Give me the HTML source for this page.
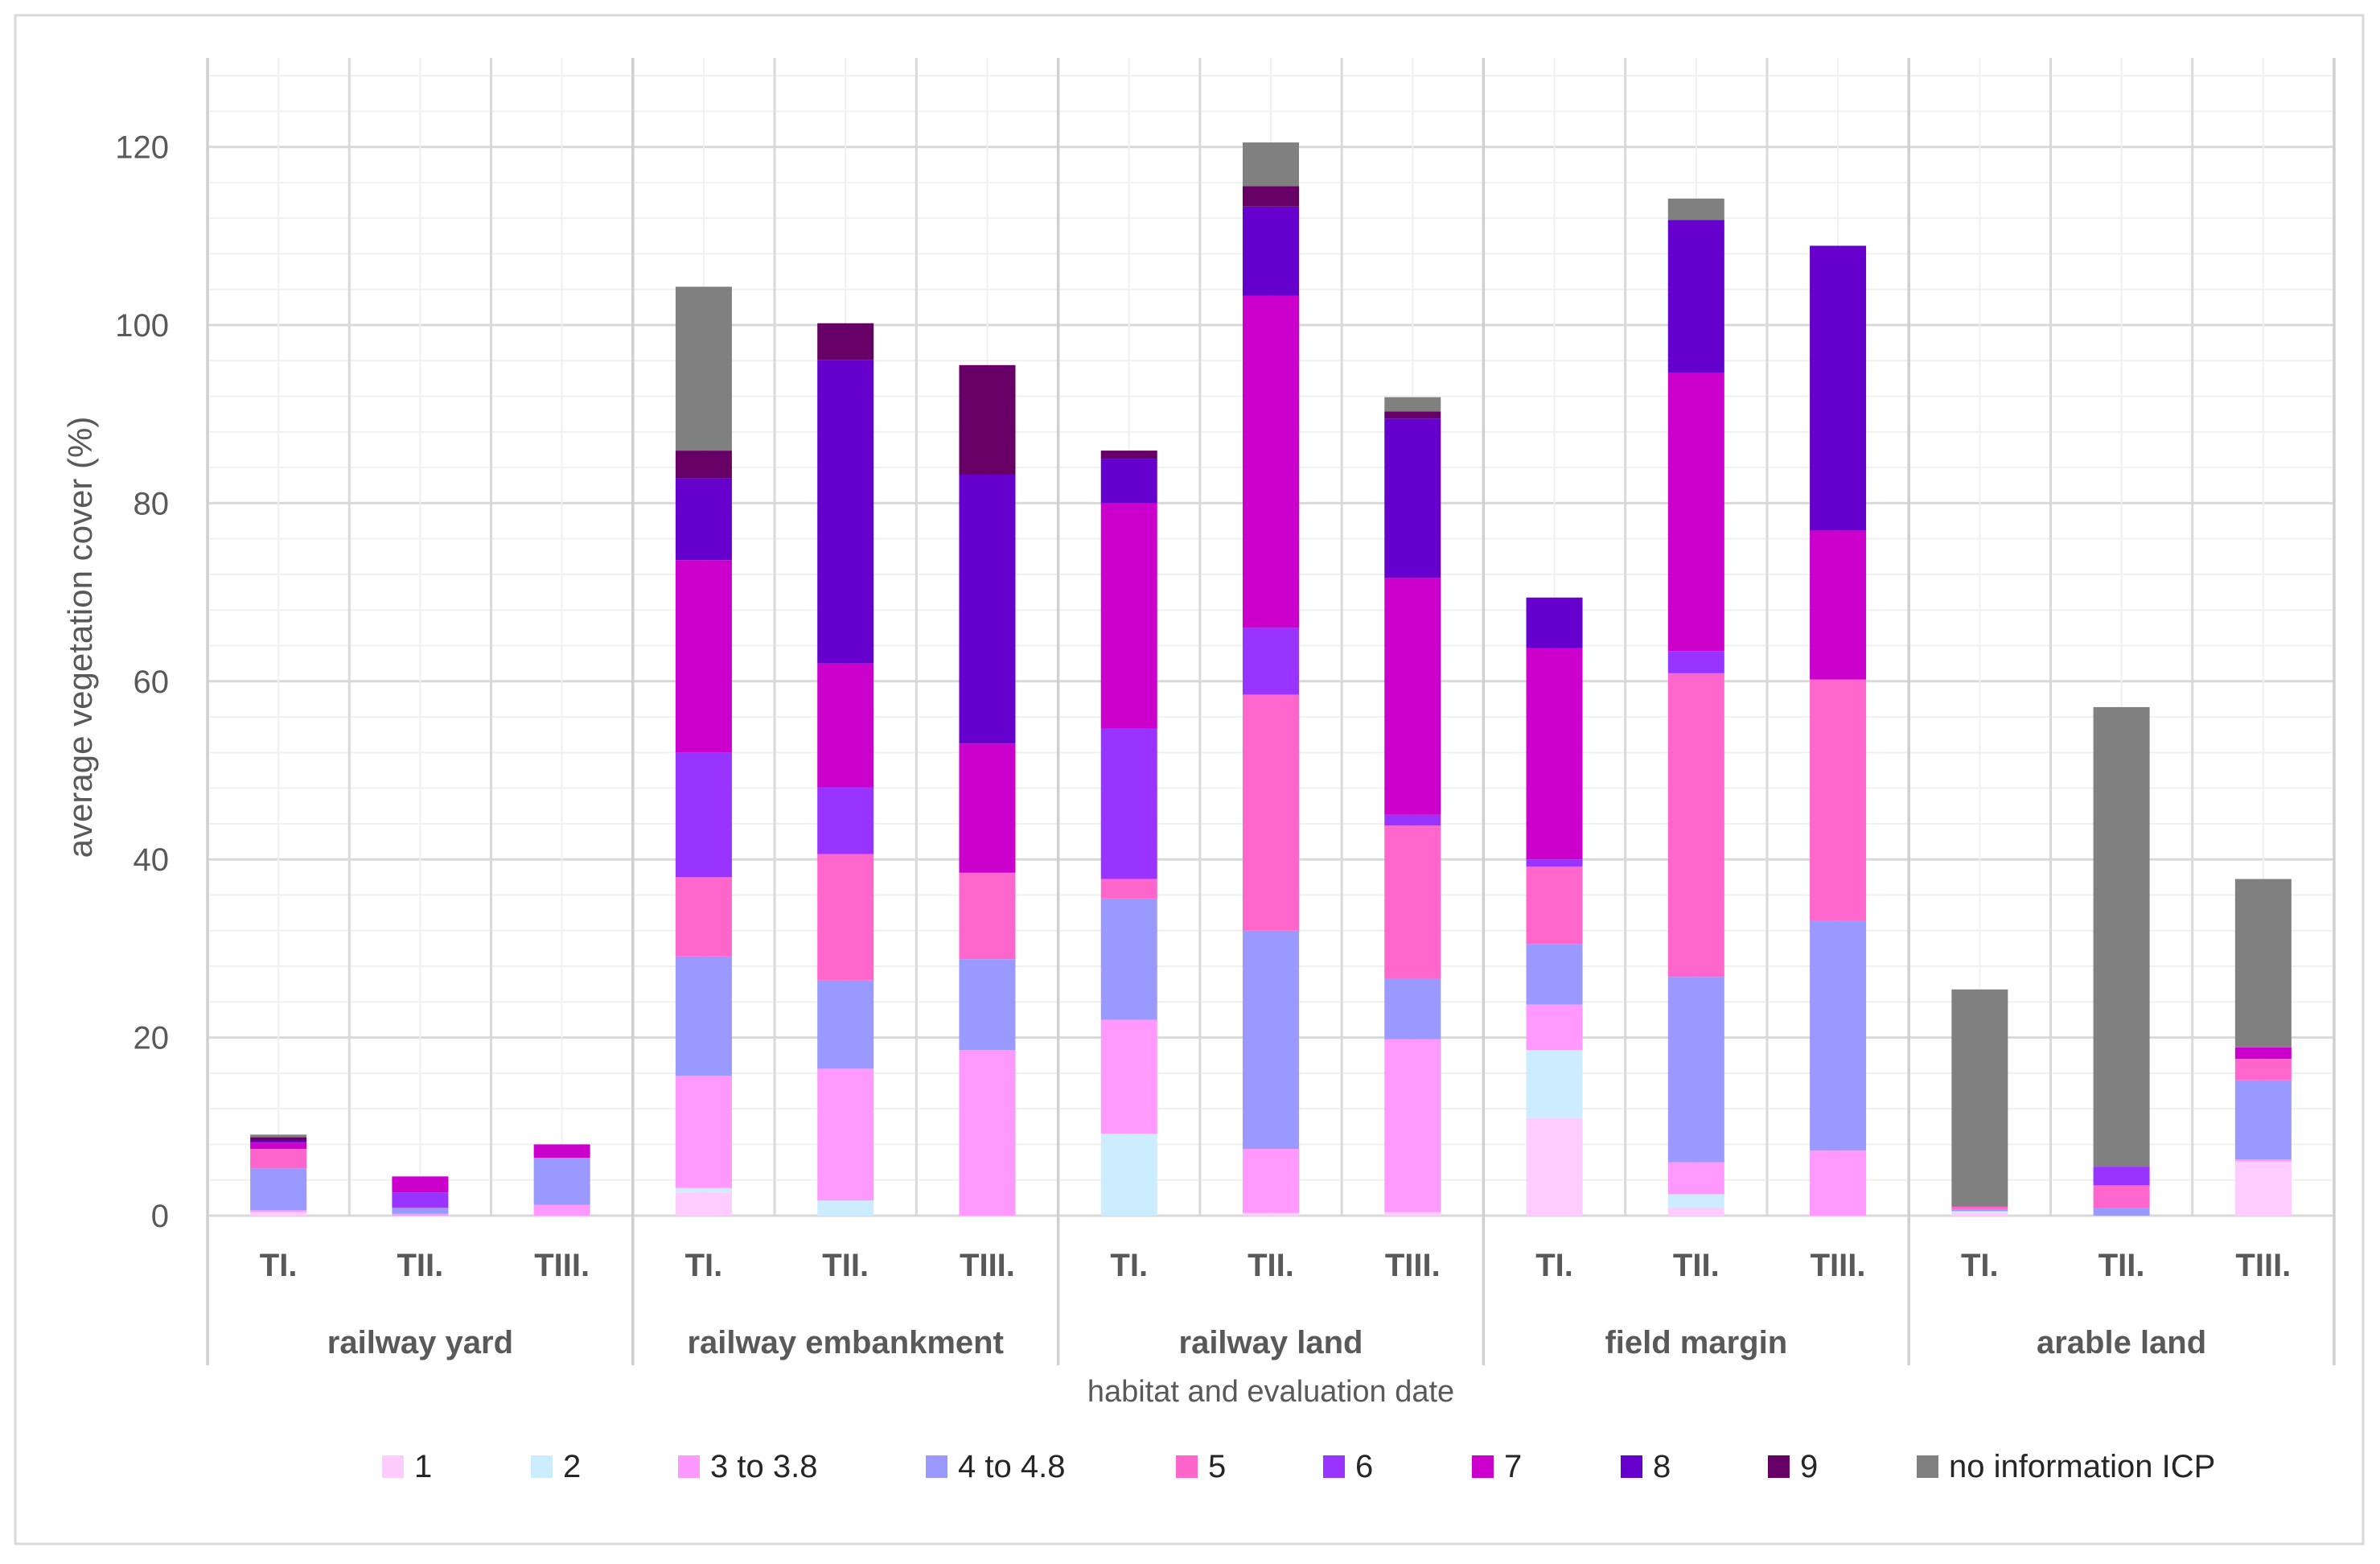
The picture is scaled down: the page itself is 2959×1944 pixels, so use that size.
<!DOCTYPE html>
<html><head><meta charset="utf-8"><style>
html,body{margin:0;padding:0;background:#fff}
svg{display:block}
text{font-family:"Liberation Sans Narrow","Liberation Sans",sans-serif}
</style></head><body>
<svg id="chart" width="2959" height="1944" viewBox="0 0 2959 1944" xmlns="http://www.w3.org/2000/svg">
<rect x="19" y="19" width="2919" height="1900" fill="#fff" stroke="#d9d9d9" stroke-width="3"/>
<g id="grid"></g><g id="bars"></g><g id="labels"></g><g id="legend"></g>
<text transform="translate(114,792) rotate(-90)" text-anchor="middle" font-size="42" fill="#595959">average vegetation cover (%)</text>
<text x="1580" y="1742" text-anchor="middle" font-size="38" fill="#595959">habitat and evaluation date</text>
</svg>
<script>
const groups = ["railway yard","railway embankment","railway land","field margin","arable land"];
const dates = ["TI.","TII.","TIII."];
const seriesNames = ["1","2","3 to 3.8","4 to 4.8","5","6","7","8","9","no information ICP"];
const seriesColors = ["#ffccff","#ccecff","#ff99ff","#9999ff","#ff66cc","#9933ff","#cc00cc","#6600cc","#660066","#808080"];
const yTicks = [0,20,40,60,80,100,120];
const s1 = [0.4,0,0, 2.6,0,0, 0,0.3,0.4, 10.9,0.9,0, 0.3,0,6.1];
const s2 = [0,0,0, 0.5,1.7,0, 9.2,0,0, 7.7,1.5,0, 0.2,0,0];
const s3 = [0.2,0.2,1.2, 12.6,14.8,18.6, 12.8,7.2,19.4, 5.1,3.6,7.3, 0,0,0.2];
const s4 = [4.7,0.7,5.3, 13.4,9.9,10.2, 13.6,24.5,6.8, 6.8,20.8,25.8, 0.2,0.9,8.9];
const s5 = [2.2,0,0, 8.9,14.2,9.7, 2.2,26.5,17.2, 8.7,34.1,27.1, 0.3,2.5,2.4];
const s6 = [0,1.7,0, 14,7.5,0, 16.9,7.5,1.2, 0.8,2.5,0, 0,2.1,0];
const s7 = [0.7,1.8,1.5, 21.6,13.9,14.5, 25.3,37.3,26.6, 23.7,31.2,16.7, 0,0,1.3];
const s8 = [0.2,0,0, 9.2,34.1,30.2, 5,10,17.9, 5.7,17.2,32, 0,0,0];
const s9 = [0.4,0,0, 3.1,4.1,12.3, 0.9,2.3,0.8, 0,0,0, 0,0,0];
const s10 = [0.3,0,0, 18.4,0,0, 0,4.9,1.6, 0,2.4,0, 24.4,51.6,18.9];
const series = [s1,s2,s3,s4,s5,s6,s7,s8,s9,s10];

const NS="http://www.w3.org/2000/svg";
const X0=258, X1=2902, Y0=1511, Ytop=72, PX_PER=11.07;
const nCat=groups.length*dates.length, cw=(X1-X0)/nCat, bw=70;
const y = v => Y0 - v*PX_PER;
const xc = i => X0 + cw*(i+0.5);
function mk(tag, attrs, parent){const e=document.createElementNS(NS,tag);for(const k in attrs)e.setAttribute(k,attrs[k]);parent.appendChild(e);return e;}
const grid=document.getElementById('grid'), bars=document.getElementById('bars'), labels=document.getElementById('labels'), legend=document.getElementById('legend');

for(let v=0; v<=128; v+=4){
  const l=mk('line',{x1:X0,x2:X1,y1:y(v),y2:y(v),stroke:(v%20===0)?'#d9d9d9':'#f0f0f0','stroke-width':(v%20===0)?3:2},grid);
  
  
}
for(let i=0;i<nCat;i++){
  const l=mk('line',{x1:xc(i),x2:xc(i),y1:Ytop,y2:Y0,stroke:'#f0f0f0','stroke-width':2},grid);
  
  
}
for(let i=0;i<=nCat;i++){
  const xb=X0+cw*i, isG=i%3===0;
  const l=mk('line',{x1:xb,x2:xb,y1:Ytop,y2:isG?1697:Y0,stroke:isG?'#d0d0d0':'#d9d9d9','stroke-width':isG?3.5:3},grid);
  
  
}
yTicks.forEach(v=>{
  const t=mk('text',{x:210,y:y(v)+14,'text-anchor':'end','font-size':40,fill:'#595959'},labels);
  t.textContent=v;
  
  
});
for(let i=0;i<nCat;i++){
  let cum=0;
  series.forEach((s,k)=>{
    const v=s[i]; if(v<=0) return;
    const r=mk('rect',{x:xc(i)-bw/2,y:y(cum+v),width:bw,height:v*PX_PER,fill:seriesColors[k]},bars);
    
    
    cum+=v;
  });
  const t=mk('text',{x:xc(i),y:1586,'text-anchor':'middle','font-size':40,'font-weight':'bold',fill:'#595959'},labels);
  t.textContent=dates[i%3];
  
  
}
groups.forEach((g,gi)=>{
  const t=mk('text',{x:X0+cw*(gi*3+1.5),y:1682,'text-anchor':'middle','font-size':40,'font-weight':'bold',fill:'#595959'},labels);
  t.textContent=g;
  
  
});
const legX=[475,660,843,1151,1462,1645,1830,2015,2198,2383];
seriesNames.forEach((n,k)=>{
  const r=mk('rect',{x:legX[k],y:1809,width:27,height:28,fill:seriesColors[k]},legend);
  
  
  const t=mk('text',{x:legX[k]+40,y:1836,'font-size':40,fill:'#262626'},legend);
  t.textContent=n;
  
  
});
</script>
</body></html>
